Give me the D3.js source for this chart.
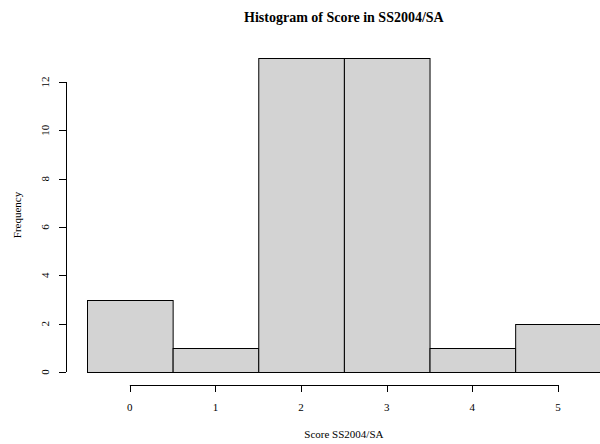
<!DOCTYPE html>
<html><head><meta charset="utf-8">
<script src="https://cdn.jsdelivr.net/npm/d3@7"></script>
<style>body{margin:0;background:#fff}svg{display:block}text{font-family:"Liberation Serif","Times New Roman",serif;fill:#000}</style>
</head><body><svg id="c" width="600" height="444"></svg>
<script>
const binStarts = [-0.5, 0.5, 1.5, 2.5, 3.5, 4.5];
const binEnds = [0.5, 1.5, 2.5, 3.5, 4.5, 5.5];
const counts = [3, 1, 13, 13, 1, 2];
const xTicks = [0, 1, 2, 3, 4, 5];
const yTicks = [0, 2, 4, 6, 8, 10, 12];
const title = "Histogram of Score in SS2004/SA";
const xLabel = "Score SS2004/SA";
const yLabel = "Frequency";

const svg = d3.select("#c");
const x = d3.scaleLinear().domain([-0.5, 5.5]).range([87, 600.8]);
const y = d3.scaleLinear().domain([0, 12]).range([372, 82]);

svg.selectAll("rect.bar").data(counts).enter().append("rect")
  .attr("class","bar")
  .attr("x",(d,i)=>x(binStarts[i])+0.5)
  .attr("width",(d,i)=>x(binEnds[i])-x(binStarts[i]))
  .attr("y",d=>Math.round(y(d))+0.5)
  .attr("height",d=>y(0)-Math.round(y(d)))
  .attr("fill","#d3d3d3").attr("stroke","#000").attr("stroke-width",1);

// x axis
const xa = svg.append("g").attr("transform","translate(0,385)");
xa.append("line").attr("x1",x(xTicks[0])).attr("x2",x(xTicks[xTicks.length-1])).attr("y1",0.5).attr("y2",0.5).attr("stroke","#000");
xa.selectAll("line.t").data(xTicks).enter().append("line").attr("class","t")
  .attr("x1",d=>Math.round(x(d))+0.5).attr("x2",d=>Math.round(x(d))+0.5).attr("y1",0).attr("y2",7).attr("stroke","#000");
xa.selectAll("text").data(xTicks).enter().append("text")
  .attr("x",d=>x(d)).attr("y",26).attr("text-anchor","middle").attr("font-size","11px").text(d=>d);

// y axis
const ya = svg.append("g").attr("transform","translate(66,0)");
ya.append("line").attr("x1",0.5).attr("x2",0.5).attr("y1",y(12)).attr("y2",y(0)).attr("stroke","#000");
ya.selectAll("line.t").data(yTicks).enter().append("line").attr("class","t")
  .attr("x1",-7).attr("x2",0).attr("y1",d=>Math.round(y(d))+0.5).attr("y2",d=>Math.round(y(d))+0.5).attr("stroke","#000");
ya.selectAll("text").data(yTicks).enter().append("text")
  .attr("transform",d=>`translate(-17,${y(d)}) rotate(-90)`)
  .attr("text-anchor","middle").attr("font-size","11px").text(d=>d);

svg.append("text").attr("x",x(2.5)).attr("y",22).attr("text-anchor","middle")
  .attr("font-size","14px").attr("font-weight","bold").text(title);
svg.append("text").attr("x",x(2.5)).attr("y",438).attr("text-anchor","middle")
  .attr("font-size","11px").text(xLabel);
svg.append("text").attr("transform",`translate(21,215) rotate(-90)`).attr("text-anchor","middle")
  .attr("font-size","11px").text(yLabel);
</script></body></html>
